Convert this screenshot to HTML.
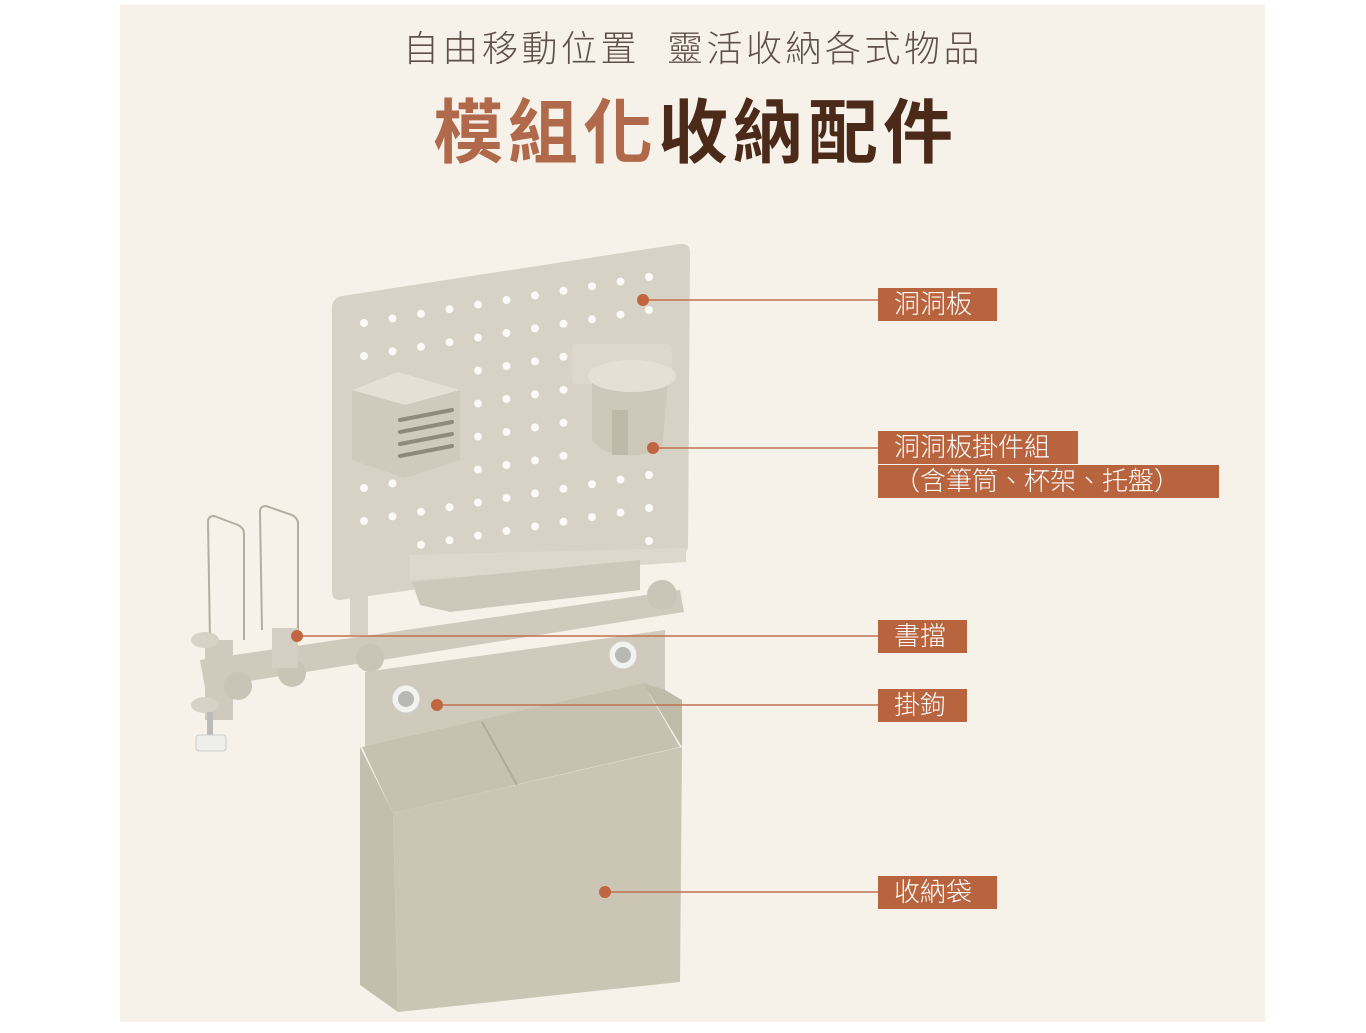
<!DOCTYPE html>
<html><head><meta charset="utf-8"><style>
html,body{margin:0;padding:0;background:#fff;}
body{width:1366px;height:1033px;position:relative;overflow:hidden;font-family:"Liberation Sans","Noto Sans CJK TC",sans-serif;}
.bg{position:absolute;left:120px;top:5px;width:1145px;height:1017px;background:#f6f2e9;}
.sub{position:absolute;left:403px;top:24px;font-size:36px;letter-spacing:3.5px;color:#5f5048;font-weight:300;white-space:nowrap;line-height:50px;}
.ttl{position:absolute;left:433px;top:88px;font-size:70px;letter-spacing:5px;font-weight:700;white-space:nowrap;line-height:90px;color:#4b2a1a;}
.ttl span{color:#b06a4b;}
.lb{position:absolute;background:#b8643f;color:#fff;font-size:26px;line-height:33px;padding-left:16px;white-space:nowrap;font-weight:300;}
</style></head><body>
<div class="bg"></div>
<div class="sub">自由移動位置&nbsp;&nbsp;靈活收納各式物品</div>
<div class="ttl"><span>模組化</span>收納配件</div>
<svg width="1366" height="1033" style="position:absolute;left:0;top:0">
<g fill="none" stroke="#b4ae9f" stroke-width="2">
<path d="M210,640 L208,522 Q208,516 214,516 L238,525 Q244,528 244,534 L244,640"/>
<path d="M262,630 L260,512 Q260,506 266,506 L292,515 Q298,518 298,524 L298,630"/>
</g>
<polygon points="200,660 680,590 684,612 205,688" fill="#cfcabb"/>
<rect x="205" y="640" width="28" height="80" fill="#cfcabb"/>
<ellipse cx="205" cy="640" rx="14" ry="8" fill="#d6d2c6"/>
<ellipse cx="205" cy="705" rx="14" ry="8" fill="#d6d2c6"/>
<rect x="207" y="712" width="6" height="25" fill="#bbb"/>
<rect x="196" y="735" width="30" height="16" rx="3" fill="#eeeeea" stroke="#ccc"/>
<circle cx="238" cy="686" r="14" fill="#c9c4b5"/>
<circle cx="292" cy="673" r="14" fill="#c9c4b5"/>
<rect x="272" y="628" width="26" height="40" fill="#d4cfc2"/>
<path d="M342,296 L680,244 Q690,243 690,253 L688,548 L686,552 L340,600 Q332,600 332,592 L332,308 Q332,298 342,296 Z" fill="#d6d2c6"/>
<g fill="#fbfaf6" id="holes"></g>
<polygon points="410,555 686,548 686,562 410,580" fill="#dcd8cc"/>
<polygon points="412,582 640,560 640,590 450,612 420,605" fill="#cdc8ba"/>
<rect x="350" y="595" width="18" height="40" fill="#d6d2c6"/>
<circle cx="662" cy="595" r="15" fill="#cac5b6"/>
<polygon points="352,390 398,372 460,390 460,460 405,478 352,460" fill="#cfcabb"/>
<polygon points="352,390 398,372 460,390 405,405" fill="#e4e0d5"/>
<g stroke="#8f8a7e" stroke-width="4" stroke-linecap="round">
<line x1="400" y1="420" x2="452" y2="410"/><line x1="400" y1="432" x2="452" y2="422"/><line x1="400" y1="444" x2="452" y2="434"/><line x1="400" y1="456" x2="452" y2="446"/>
</g>
<rect x="572" y="344" width="100" height="40" rx="4" fill="#dcd8cc"/>
<path d="M592,372 L592,440 Q605,458 640,455 L662,450 L668,378 Z" fill="#cdc8ba"/>
<ellipse cx="632" cy="376" rx="44" ry="16" fill="#e4e0d6"/>
<rect x="612" y="410" width="16" height="45" fill="#bfb9aa"/>
<polygon points="365,672 665,630 665,690 365,750" fill="#cfcabb"/>
<circle cx="370" cy="658" r="14" fill="#c9c4b5"/>
<polygon points="362,747 643,683 680,747 393,813" fill="#c6c1b1"/>
<line x1="482" y1="722" x2="517" y2="785" stroke="#b0aa99" stroke-width="2"/>
<polygon points="360,747 393,813 398,1012 360,985" fill="#c3bead"/>
<polygon points="393,813 682,747 680,982 398,1012" fill="#cac5b4"/>
<polygon points="643,683 682,747 682,700 665,690" fill="#c0bba9"/>
<circle cx="406" cy="699" r="14" fill="#f2f2ef" stroke="#ccc"/>
<circle cx="406" cy="699" r="8" fill="#b8b8b4"/>
<circle cx="623" cy="655" r="14" fill="#f2f2ef" stroke="#ccc"/>
<circle cx="623" cy="655" r="8" fill="#b8b8b4"/>
<g stroke="#c0714f" stroke-width="1.5">
<line x1="643" y1="300" x2="878" y2="300"/>
<line x1="653" y1="448" x2="878" y2="448"/>
<line x1="297" y1="636" x2="878" y2="636"/>
<line x1="437" y1="705" x2="878" y2="705"/>
<line x1="605" y1="892" x2="878" y2="892"/>
</g>
<g fill="#c0653f">
<circle cx="643" cy="300" r="6"/><circle cx="653" cy="448" r="6"/><circle cx="297" cy="636" r="6"/><circle cx="437" cy="705" r="6"/><circle cx="605" cy="892" r="6"/>
</g>
</svg>
<script>
var g=document.getElementById('holes'),s='';
for(var r=0;r<9;r++)for(var c=0;c<11;c++){
 var x=364+c*28.5, y=323+r*33-c*4.6;
 if(x>352&&x<462&&y>372&&y<480)continue;
 if(x>570&&x<676&&y>340&&y<458)continue;
 if(y>545)continue;
 s+='<circle cx="'+x+'" cy="'+y+'" r="4"/>';}
g.innerHTML=s;
</script>
<div class="lb" style="left:878px;top:288px;width:103px;">洞洞板</div>
<div class="lb" style="left:878px;top:431px;width:184px;">洞洞板掛件組</div>
<div class="lb" style="left:878px;top:465px;width:325px;">（含筆筒、杯架、托盤）</div>
<div class="lb" style="left:878px;top:620px;width:73px;">書擋</div>
<div class="lb" style="left:878px;top:689px;width:73px;">掛鉤</div>
<div class="lb" style="left:878px;top:876px;width:103px;">收納袋</div>
</body></html>
